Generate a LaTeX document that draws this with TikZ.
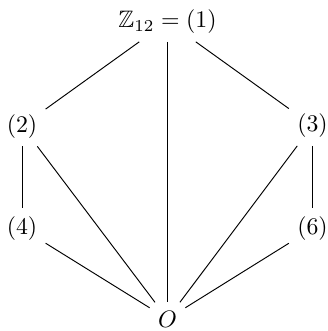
\documentclass[tikz,border=0pt]{standalone}
\usepackage{amssymb}
\begin{document}
\begin{tikzpicture}[x=0.42pt,y=-0.42pt,
  lat/.style={anchor=base,inner sep=0.333em},
  edge/.style={line width=0.4pt}]
\useasboundingbox (0,0) rectangle (328,331);
\node[lat] (top) at (167.5,27.5) {$\mathbb{Z}_{12} = (1)$};
\node[lat] (n2) at (22,132) {$(2)$};
\node[lat] (n3) at (312.5,131.5) {$(3)$};
\node[lat] (n4) at (22,234.5) {$(4)$};
\node[lat] (n6) at (312.5,234.5) {$(6)$};
\node[lat] (o) at (167.5,327) {$O$};
\draw[edge] (top) -- (n2);
\draw[edge] (top) -- (o);
\draw[edge] (top) -- (n3);
\draw[edge] (n2) -- (n4);
\draw[edge] (n2) -- (o);
\draw[edge] (n3) -- (n6);
\draw[edge] (n3) -- (o);
\draw[edge] (n4) -- (o);
\draw[edge] (n6) -- (o);
\end{tikzpicture}
\end{document}
